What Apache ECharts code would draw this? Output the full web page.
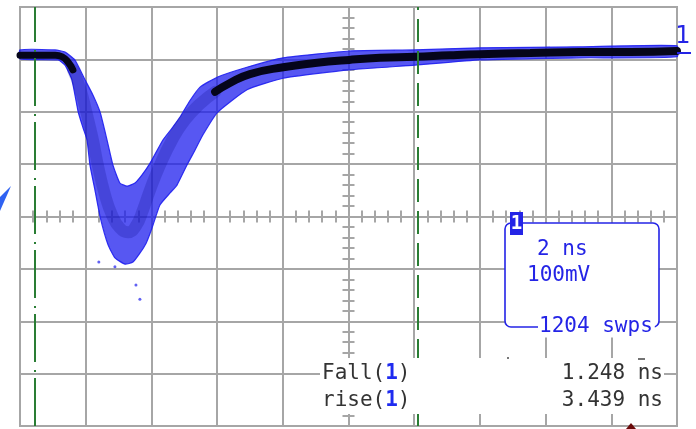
<!DOCTYPE html>
<html>
<head>
<meta charset="utf-8">
<script src="https://cdn.jsdelivr.net/npm/echarts@6/dist/echarts.min.js"></script>
<style>
html,body{margin:0;padding:0;background:#fff;}
#chart{width:696px;height:429px;}
</style>
</head>
<body>
<div id="chart"></div>
<script>
// Time in ns (2 ns/div, trigger centred), amplitude in mV (100 mV/div)
var upperT = [-10.00, -8.93, -8.63, -8.33, -8.02, -7.78, -7.56, -7.35, -7.17, -6.96, -6.74, -6.50, -6.29, -6.04, -5.65, -5.37, -5.13, -4.82, -4.52, -4.00, -3.09, -1.99, 0.02, 2.02, 4.00, 7.05, 10.00];
var upperV = [318, 318, 314, 299, 261, 232, 199, 146, 98, 64, 58, 64, 79, 102, 146, 169, 190, 222, 247, 266, 285, 303, 316, 318, 322, 324, 326];
var lowerT = [-10.00, -8.84, -8.63, -8.42, -8.23, -8.08, -7.96, -7.87, -7.72, -7.56, -7.32, -7.11, -6.80, -6.56, -6.35, -6.16, -5.98, -5.74, -5.43, -5.22, -4.92, -4.67, -4.43, -4.00, -3.09, -1.99, 0.02, 2.02, 4.00, 7.05, 10.00];
var lowerV = [301, 299, 289, 261, 200, 169, 146, 98, 51, -1, -54, -79, -91, -87, -70, -51, -22, 22, 45, 60, 98, 127, 156, 198, 242, 264, 280, 289, 299, 303, 305];
var denseT = [-8.39, -8.17, -7.96, -7.78, -7.63, -7.41, -7.20, -6.96, -6.71, -6.47, -6.26, -6.04, -5.74, -5.37, -4.98, -4.52, -4.06];
var denseV = [280, 245, 194, 146, 98, 41, 3, -22, -30, -18, 12, 51, 98, 146, 184, 215, 238];
var coreLeftT = [-10.00, -8.93, -8.72, -8.54, -8.39];
var coreLeftV = [308, 308, 305, 295, 280];
var coreRightT = [-4.06, -3.61, -3.00, -1.99, -1.02, 0.02, 0.96, 2.02, 3.09, 4.00, 5.53, 7.05, 8.57, 10.00];
var coreRightV = [238, 255, 272, 285, 293, 299, 303, 305, 308, 310, 312, 314, 314, 316];
var strayT = [-7.60, -7.11, -6.47, -6.35];
var strayV = [-87, -96, -131, -158];
var cursorT = [-9.54, 2.12];
var timeTicks = [-10, -8, -6, -4, -2, 0, 2, 4, 6, 8, 10];
var scaleLabels = ['2 ns', '100mV', '1204 swps'];
var measNames = ['Fall', 'rise'];
var measValues = ['1.248 ns', '3.439 ns'];

function pairs(t, v) { return t.map(function (x, i) { return [x, v[i]]; }); }

var GRID = '#a6a6a6';
var BLUE = '#2424e6';
var GREEN = '#2a7d34';
var MONO = 'DejaVu Sans Mono';

function xAx(inside) {
  return {
    type: 'value', min: timeTicks[0], max: timeTicks[timeTicks.length - 1], interval: 2, position: 'bottom',
    axisLine: { onZero: true, lineStyle: { color: GRID, width: 2 } },
    axisTick: { show: true, inside: inside, length: 6, lineStyle: { color: GRID, width: 2 } },
    minorTick: { show: true, splitNumber: 5, length: 6, lineStyle: { color: GRID, width: 2 } },
    axisLabel: { show: false },
    splitLine: { show: !inside, lineStyle: { color: GRID, width: 2 } }
  };
}
function yAx(inside) {
  return {
    type: 'value', min: -400, max: 400, interval: 100, position: 'left',
    axisLine: { onZero: true, lineStyle: { color: GRID, width: 2 } },
    axisTick: { show: true, inside: inside, length: 6, lineStyle: { color: GRID, width: 2 } },
    minorTick: { show: true, splitNumber: 5, length: 6, lineStyle: { color: GRID, width: 2 } },
    axisLabel: { show: false },
    splitLine: { show: !inside, lineStyle: { color: GRID, width: 2 } }
  };
}

var chart = echarts.init(document.getElementById('chart'), null, { renderer: 'canvas' });
var monoFont = '21px "' + MONO + '"';
var option = {
  animation: false,
  backgroundColor: '#ffffff',
  grid: { left: 20, top: 7, right: 19, bottom: 3, show: true, borderColor: GRID, borderWidth: 2, backgroundColor: 'transparent' },
  xAxis: [xAx(false), xAx(true)],
  yAxis: [yAx(false), yAx(true)],
  series: [
    {
      type: 'custom', name: 'envelope', data: [[0, 0]], silent: true, z: 3,
      renderItem: function (params, api) {
        if (params.dataIndex !== 0) return;
        var pts = [];
        for (var i = 0; i < upperT.length; i++) pts.push(api.coord([upperT[i], upperV[i]]));
        for (var j = lowerT.length - 1; j >= 0; j--) pts.push(api.coord([lowerT[j], lowerV[j]]));
        return {
          type: 'polygon', shape: { points: pts, smooth: 0.15 },
          style: { fill: 'rgba(28,28,238,0.74)', stroke: 'rgba(30,30,240,0.9)', lineWidth: 1.2 }
        };
      }
    },
    {
      type: 'line', name: 'dense', data: pairs(denseT, denseV), smooth: true, showSymbol: false, silent: true, z: 3,
      lineStyle: { color: 'rgba(10,10,130,0.22)', width: 12, cap: 'round' }
    },
    {
      type: 'line', name: 'coreL', data: pairs(coreLeftT, coreLeftV), smooth: true, showSymbol: false, silent: true, z: 4,
      lineStyle: { color: '#05051a', width: 7, cap: 'round' }
    },
    {
      type: 'line', name: 'coreR', data: pairs(coreRightT, coreRightV), smooth: true, showSymbol: false, silent: true, z: 4,
      lineStyle: { color: '#05051a', width: 8, cap: 'round' }
    },
    {
      type: 'scatter', name: 'stray', data: pairs(strayT, strayV), symbolSize: 3, silent: true, z: 4,
      itemStyle: { color: '#3a3af0' },
      markLine: {
        silent: true, symbol: 'none', label: { show: false }, animation: false,
        data: [
          { xAxis: cursorT[0], lineStyle: { color: GREEN, width: 2, type: [48, 6, 2, 8] } },
          { xAxis: cursorT[1], lineStyle: { color: GREEN, width: 2, type: [23, 9] } }
        ]
      }
    }
  ],
  graphic: [
    // measurement panel
    { type: 'rect', z: 100, shape: { x: 320, y: 358, width: 344, height: 56 }, style: { fill: '#ffffff' } },
    { type: 'text', z: 101, x: 322, y: 374, style: { text: measNames[0] + '({b|1})', font: monoFont, fill: '#333', verticalAlign: 'middle', rich: { b: { fill: '#1f2bf0', font: 'bold 21px "' + MONO + '"' } } } },
    { type: 'text', z: 101, x: 322, y: 401, style: { text: measNames[1] + '({b|1})', font: monoFont, fill: '#333', verticalAlign: 'middle', rich: { b: { fill: '#1f2bf0', font: 'bold 21px "' + MONO + '"' } } } },
    { type: 'text', z: 101, x: 663, y: 374, style: { text: measValues[0], font: monoFont, fill: '#333', align: 'right', verticalAlign: 'middle' } },
    { type: 'text', z: 101, x: 663, y: 401, style: { text: measValues[1], font: monoFont, fill: '#333', align: 'right', verticalAlign: 'middle' } },
    { type: 'line', z: 101, shape: { x1: 638, y1: 359, x2: 645, y2: 359 }, style: { stroke: '#444', lineWidth: 1.5 } },
    { type: 'rect', z: 101, shape: { x: 507, y: 357, width: 2, height: 2 }, style: { fill: '#777' } },
    // scale box
    { type: 'rect', z: 100, shape: { x: 505, y: 223, width: 154, height: 104, r: 6 }, style: { fill: '#ffffff', stroke: BLUE, lineWidth: 1.6 } },
    { type: 'rect', z: 102, shape: { x: 510, y: 212, width: 13, height: 23 }, style: { fill: BLUE } },
    { type: 'text', z: 103, x: 516.5, y: 224, style: { text: '1', font: 'bold 19px "' + MONO + '"', fill: '#ffffff', align: 'center', verticalAlign: 'middle' } },
    { type: 'text', z: 101, x: 537, y: 250, style: { text: scaleLabels[0], font: monoFont, fill: BLUE, verticalAlign: 'middle' } },
    { type: 'text', z: 101, x: 527, y: 276, style: { text: scaleLabels[1], font: monoFont, fill: BLUE, verticalAlign: 'middle' } },
    { type: 'text', z: 101, x: 538, y: 327, style: { text: scaleLabels[2], font: monoFont, fill: BLUE, verticalAlign: 'middle', backgroundColor: '#ffffff', padding: [0, 2, 0, 1] } },
    // channel marker
    { type: 'text', z: 101, x: 683, y: 37, style: { text: '1', font: '24px "DejaVu Sans"', fill: BLUE, align: 'center', verticalAlign: 'middle' } },
    { type: 'line', z: 101, shape: { x1: 677, y1: 53, x2: 691, y2: 53 }, style: { stroke: BLUE, lineWidth: 2 } },
    // trigger arrow
    { type: 'polygon', z: 101, shape: { points: [[11, 186], [0, 197], [0, 211]] }, style: { fill: '#2f62f2' } },
    // bottom marker
    { type: 'polygon', z: 101, shape: { points: [[631, 423], [626, 429], [636, 429]] }, style: { fill: '#6a0a0a' } }
  ]
};
chart.setOption(option);
</script>
</body>
</html>
